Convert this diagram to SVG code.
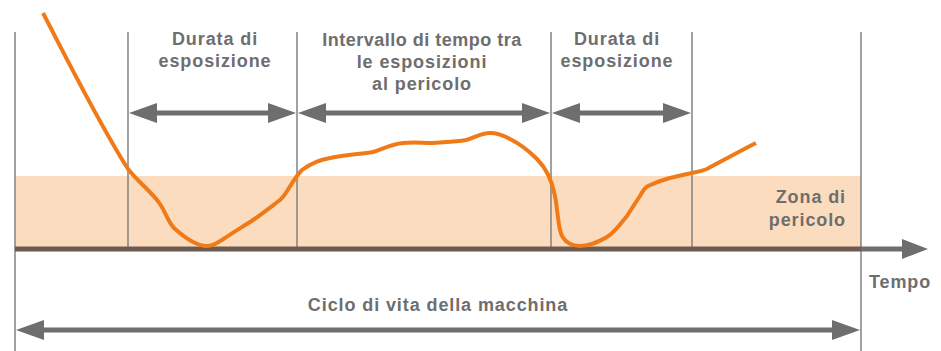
<svg xmlns="http://www.w3.org/2000/svg" width="941" height="351" viewBox="0 0 941 351">
<style>
.t{font-family:"Liberation Sans",Arial,sans-serif;font-weight:bold;font-size:18px;fill:#6e6e6e;letter-spacing:0.9px}
.n{letter-spacing:0.5px}
.v{stroke:#7a7a7a;stroke-width:1.4;fill:none}
.ar{stroke:#6e6e6e;stroke-width:5;fill:none}
.hd{fill:#6e6e6e}
</style>
<rect width="941" height="351" fill="#ffffff"/>
<g id="danger-zone">
<rect x="15" y="176" width="846" height="72" fill="#fcdcbe"/>
</g>
<g id="grid">
<line class="v" x1="15" y1="32" x2="15" y2="351"/>
<line class="v" x1="128" y1="32" x2="128" y2="248"/>
<line class="v" x1="297" y1="32" x2="297" y2="248"/>
<line class="v" x1="551" y1="32" x2="551" y2="248"/>
<line class="v" x1="692" y1="32" x2="692" y2="248"/>
<line class="v" x1="861" y1="32" x2="861" y2="351"/>
</g>
<g id="connectors">
<line x1="15" y1="249" x2="861" y2="249" stroke="#6b5b50" stroke-width="5"/>
<line class="ar" x1="861" y1="249" x2="905" y2="249"/>
<polygon class="hd" points="928,249 902,239 902,259"/>
<line class="ar" x1="150" y1="113" x2="275" y2="113"/>
<polygon class="hd" points="129,113 157,103 157,123"/>
<polygon class="hd" points="296,113 268,103 268,123"/>
<line class="ar" x1="320" y1="113" x2="528" y2="113"/>
<polygon class="hd" points="298,113 326,103 326,123"/>
<polygon class="hd" points="550,113 522,103 522,123"/>
<line class="ar" x1="574" y1="113" x2="670" y2="113"/>
<polygon class="hd" points="552,113 580,103 580,123"/>
<polygon class="hd" points="691,113 663,103 663,123"/>
<line class="ar" x1="38" y1="330" x2="838" y2="330"/>
<polygon class="hd" points="16,330 44,320 44,340"/>
<polygon class="hd" points="860,330 832,320 832,340"/>
</g>
<g id="curve">
<path d="M43,13 C70,65 100,125 128,169 C138,182 152,192 160,204 C166,213 168,222 174,228 C185,238 198,246 207,246 C214,246 218,242 222,240 C232,233 244,226 253,220 C262,214 272,206 280,200 C288,193 292,180 302,170 C310,164 318,160 330,158 C345,155 360,154 373,152 C385,148 392,144 403,143 C414,142 422,143 432,143 C445,142 455,142 466,140 C475,138 480,133 490,133 C498,133 503,135 510,139 C520,144 528,150 537,159 C546,168 552,180 555,196 C558,212 558,228 562,236 C566,243 572,246 580,246 C590,246 598,242 607,237 C615,232 620,224 627,216 C632,208 636,202 640,196 C643,191 644,188 648,186 C657,182 665,179 674,177 C682,175 687,174 692,173 C698,172 702,171 707,169 C722,161 740,151 756,143" fill="none" stroke="#f07a18" stroke-width="4" stroke-linecap="butt" stroke-linejoin="round"/>
</g>
<g id="label-durata-1">
<text class="t" x="215" y="45" text-anchor="middle">Durata di</text>
<text class="t" x="215" y="67" text-anchor="middle">esposizione</text>
</g>
<g id="label-intervallo">
<text class="t n" x="422" y="46" text-anchor="middle">Intervallo di tempo tra</text>
<text class="t" x="422" y="68" text-anchor="middle">le esposizioni</text>
<text class="t" x="422" y="90" text-anchor="middle">al pericolo</text>
</g>
<g id="label-durata-2">
<text class="t" x="617" y="45" text-anchor="middle">Durata di</text>
<text class="t" x="617" y="67" text-anchor="middle">esposizione</text>
</g>
<g id="label-zona">
<text class="t" x="846" y="203" text-anchor="end">Zona di</text>
<text class="t" x="846" y="226" text-anchor="end">pericolo</text>
</g>
<g id="label-tempo">
<text class="t" x="869" y="288">Tempo</text>
</g>
<g id="label-ciclo">
<text class="t" x="438" y="311" text-anchor="middle">Ciclo di vita della macchina</text>
</g>
</svg>
